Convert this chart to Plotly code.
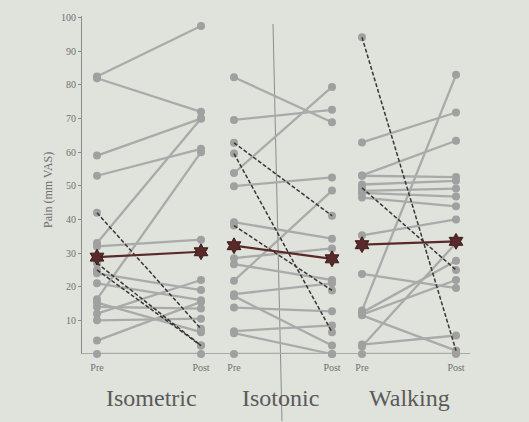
import plotly.graph_objects as go

# ---- data ----
groups = ["Isometric", "Isotonic", "Walking"]
x_pre = [0.0, 1.37, 2.65]
x_post = [1.04, 2.35, 3.59]

iso_pre = [82.5, 82, 59, 53, 33, 16.3, 32, 24, 21, 15.3, 14, 12, 10, 4, 0]
iso_post = [97.5, 72, 70, 61, 70, 60, 34, 19, 16, 6.5, 13.5, 22, 10.5, 15.5, 0]
iso_dash_pre = [42, 27, 25]
iso_dash_post = [7.5, 2.5, 2.5]
iso_mean = [28.8, 30.4]

ist_pre = [82.3, 69.6, 53.8, 49.9, 39.2, 28.5, 26.7, 21.8, 17.8, 17.2, 13.8, 6.8, 6.2, 0]
ist_post = [68.9, 72.6, 79.4, 52.5, 34.3, 31.4, 22, 48.6, 21, 2.5, 12.7, 8.5, 0, 0]
ist_dash_pre = [62.8, 59.6, 38.2]
ist_dash_post = [41.1, 6.5, 18.9]
ist_mean = [32.2, 28.3]

wlk_pre = [62.9, 53.1, 53, 50.4, 48.5, 47.9, 46.5, 35.3, 23.8, 12.9, 12.3, 11.7, 11.5, 2.8, 2.2, 0]
wlk_post = [71.8, 63.4, 52.6, 51.5, 49.2, 46.8, 43.9, 40.0, 19.6, 83, 27.7, 22, 1, 5.5, 33, 0]
wlk_dash_pre = [94.2, 49.4]
wlk_dash_post = [1, 25]
wlk_mean = [32.5, 33.5]

solid = [(iso_pre, iso_post), (ist_pre, ist_post), (wlk_pre, wlk_post)]
dashed = [(iso_dash_pre, iso_dash_post), (ist_dash_pre, ist_dash_post), (wlk_dash_pre, wlk_dash_post)]
means = [iso_mean, ist_mean, wlk_mean]

y_ticks = [10, 20, 30, 40, 50, 60, 70, 80, 90, 100]

GREY = "#aaaaaa"
MARK = "#a0a0a0"
DARK = "#3b3535"
MEAN = "#5a2a2a"
BG = "#dfe3dc"
FONT = "Liberation Serif"

fig = go.Figure()


def segs(pre, post, g):
    xs, ys = [], []
    for a, b in zip(pre, post):
        xs += [x_pre[g], x_post[g], None]
        ys += [a, b, None]
    return xs, ys


for g, (pre, post) in enumerate(solid):
    xs, ys = segs(pre, post, g)
    fig.add_trace(go.Scatter(x=xs, y=ys, mode="lines+markers",
                             line=dict(color=GREY, width=2.3),
                             marker=dict(color=MARK, size=8),
                             cliponaxis=False, showlegend=False, hoverinfo="skip"))

for g, (pre, post) in enumerate(dashed):
    xs, ys = segs(pre, post, g)
    fig.add_trace(go.Scatter(x=xs, y=ys, mode="markers",
                             marker=dict(color=MARK, size=8),
                             cliponaxis=False, showlegend=False, hoverinfo="skip"))
    fig.add_trace(go.Scatter(x=xs, y=ys, mode="lines",
                             line=dict(color=DARK, width=1.5, dash="4px,2px"),
                             cliponaxis=False, showlegend=False, hoverinfo="skip"))

for g, m in enumerate(means):
    fig.add_trace(go.Scatter(x=[x_pre[g], x_post[g]], y=m, mode="lines+markers",
                             line=dict(color=MEAN, width=2.2),
                             marker=dict(symbol="hexagram", color=MEAN, size=12,
                                         line=dict(color="#3a1a1a", width=1)),
                             cliponaxis=False, showlegend=False, hoverinfo="skip"))

tickvals, ticktext = [], []
for g in range(3):
    tickvals += [x_pre[g], x_post[g]]
    ticktext += ["Pre", "Post"]

fig.update_layout(
    width=529, height=422,
    margin=dict(l=82, r=59, t=12, b=68),
    paper_bgcolor=BG, plot_bgcolor=BG,
    font=dict(family=FONT, color="#6e6e6e"),
    xaxis=dict(range=[-0.15, 3.73], tickvals=tickvals, ticktext=ticktext,
               showgrid=False, zeroline=False, showline=False,
               ticks="", ticklabelstandoff=6, tickfont=dict(size=10, color="#707070")),
    yaxis=dict(range=[0, 100.5], tickvals=y_ticks, showgrid=False, zeroline=False,
               showline=True, linecolor="#8a8a8a", linewidth=1.2,
               ticks="outside", ticklen=3, tickcolor="#8a8a8a",
               tickfont=dict(size=10, color="#707070")),
)

# x baseline
fig.add_shape(type="line", xref="paper", yref="y", x0=0, x1=1, y0=0, y1=0,
              line=dict(color="#a8a8a8", width=2), layer="below")

# seam line on the projector screen
fig.add_shape(type="line", xref="paper", yref="paper",
              x0=(273 - 82) / 388, x1=(282 - 82) / 388, y0=(354 - 20) / 342, y1=(354 - 422) / 342,
              line=dict(color="#8c8c8c", width=1), layer="below")

# y title
fig.add_annotation(text="Pain (mm VAS)", xref="paper", yref="paper",
                   x=(48 - 82) / 388, y=(354 - 188) / 342, textangle=-90, showarrow=False,
                   xanchor="center", yanchor="middle",
                   font=dict(size=12, color="#6e6e6e", family=FONT))

# group labels
for g, name in enumerate(groups):
    fig.add_annotation(text=name, xref="x", yref="paper",
                       x=(x_pre[g] + x_post[g]) / 2 + [0.02, -0.03, 0.0][g], y=(354 - 399) / 342,
                       xanchor="center", yanchor="middle",
                       showarrow=False, font=dict(size=24, color="#5a5a5a", family=FONT))

fig.write_html("out.html", config={"displayModeBar": False},
               post_script="document.body.style.margin='0';")
